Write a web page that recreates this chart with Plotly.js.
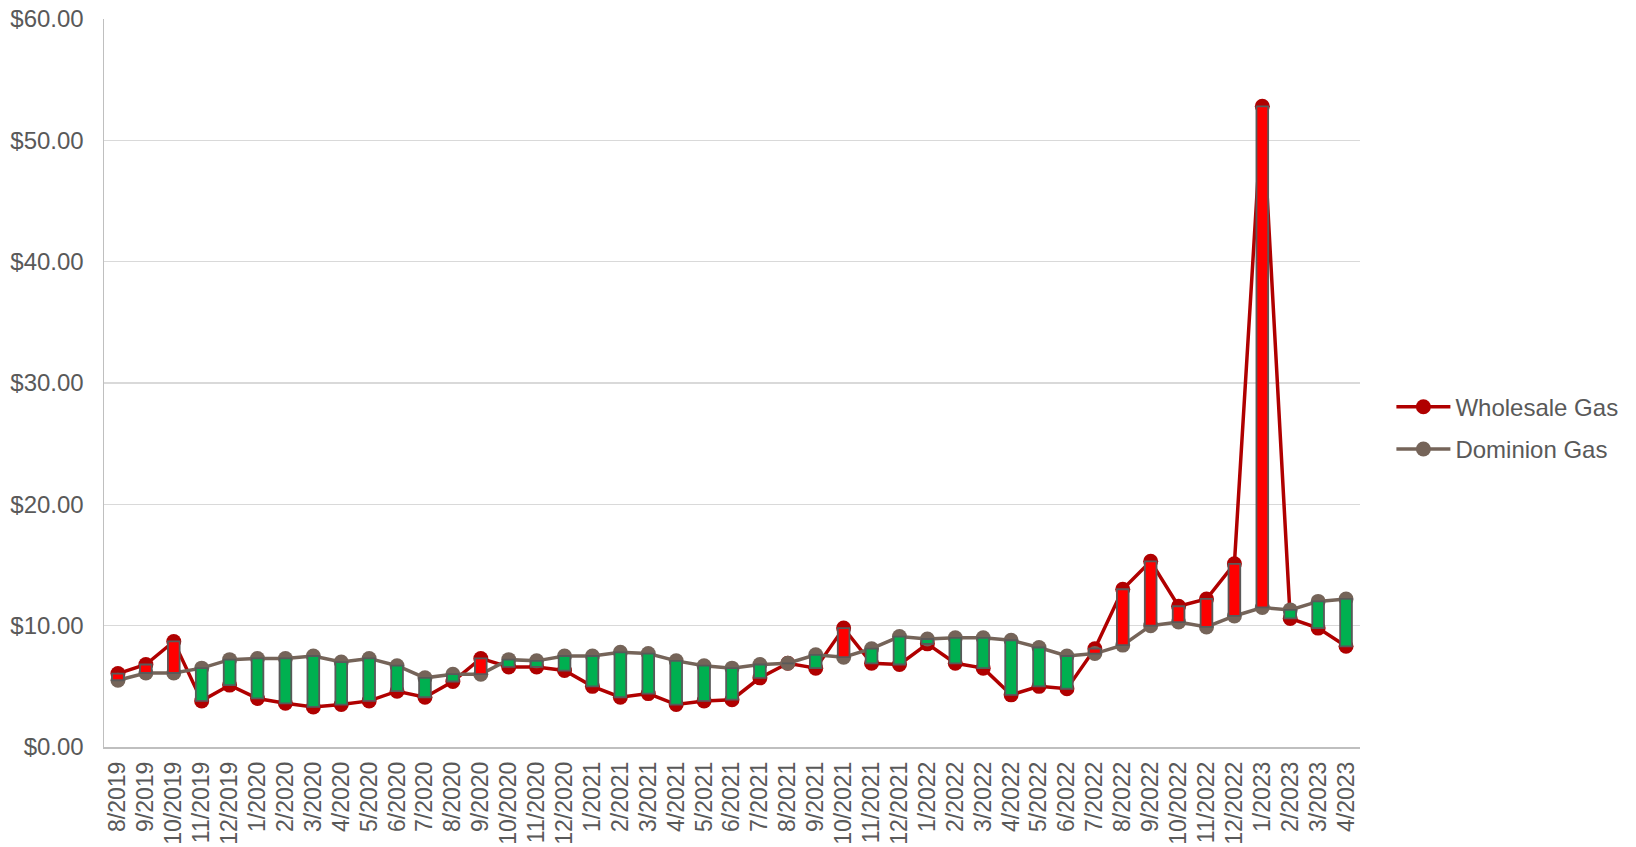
<!DOCTYPE html>
<html>
<head>
<meta charset="utf-8">
<script src="https://cdn.plot.ly/plotly-3.0.1.min.js"></script>
<style>html,body{margin:0;padding:0;background:#fff;}#chart{width:1636px;height:847px;}</style>
</head>
<body>
<div id="chart"></div>
<script>
const months = ["8/2019","9/2019","10/2019","11/2019","12/2019","1/2020","2/2020","3/2020","4/2020","5/2020","6/2020","7/2020","8/2020","9/2020","10/2020","11/2020","12/2020","1/2021","2/2021","3/2021","4/2021","5/2021","6/2021","7/2021","8/2021","9/2021","10/2021","11/2021","12/2021","1/2022","2/2022","3/2022","4/2022","5/2022","6/2022","7/2022","8/2022","9/2022","10/2022","11/2022","12/2022","1/2023","2/2023","3/2023","4/2023"];
const wholesale = [6.05,6.8,8.7,3.8,5.1,4.0,3.6,3.3,3.5,3.8,4.6,4.1,5.4,7.3,6.6,6.6,6.3,5.0,4.1,4.4,3.5,3.8,3.9,5.7,6.9,6.5,9.8,6.9,6.8,8.5,6.9,6.5,4.3,5.0,4.8,8.1,13.0,15.3,11.6,12.2,15.1,52.8,10.6,9.8,8.3];
const dominion = [5.5,6.1,6.1,6.5,7.2,7.3,7.3,7.5,7.0,7.3,6.7,5.7,6.0,6.0,7.2,7.1,7.5,7.5,7.8,7.7,7.1,6.7,6.5,6.8,6.9,7.6,7.4,8.1,9.1,8.9,9.0,9.0,8.8,8.2,7.5,7.7,8.4,10.0,10.3,9.9,10.8,11.5,11.3,12.0,12.2];

const barBase = wholesale.map((w,i)=>Math.min(w,dominion[i]));
const barLen = wholesale.map((w,i)=>Math.abs(w-dominion[i]));
const barColor = wholesale.map((w,i)=> w>dominion[i] ? '#FF0000' : '#00B050');

const fontFam = 'Liberation Sans, Arial, sans-serif';
const txtCol = '#595959';

const traces = [
  {type:'scatter', mode:'lines+markers', name:'Wholesale Gas', x:months, y:wholesale,
   line:{color:'#B00000', width:3.5}, marker:{color:'#B00000', size:15}, legendgroup:'a', xaxis:'x', yaxis:'y'},
  {type:'scatter', mode:'lines+markers', name:'Dominion Gas', x:months, y:dominion,
   line:{color:'#756459', width:3.5}, marker:{color:'#756459', size:15}, legendgroup:'b', xaxis:'x', yaxis:'y'},
  {type:'bar', x:months, y:barLen, base:barBase, width:0.42, showlegend:false,
   marker:{color:barColor, line:{color:'#595959', width:1.8}}, xaxis:'x', yaxis:'y2', hoverinfo:'skip'}
];

const layout = {
  width:1636, height:847,
  margin:{l:104, r:276, t:19, b:100},
  paper_bgcolor:'#fff', plot_bgcolor:'#fff',
  font:{family:fontFam, size:24, color:txtCol},
  showlegend:true,
  legend:{x:1.025, y:0.438, xanchor:'left', yanchor:'middle', font:{size:24, color:txtCol},
          traceorder:'grouped', tracegroupgap:8, itemwidth:54, bgcolor:'rgba(0,0,0,0)'},
  xaxis:{type:'category', tickmode:'array', tickvals:months, ticktext:months, tickangle:-90,
         showgrid:false, showline:true, linecolor:'#BFBFBF', linewidth:1.5, ticks:'',
         tickfont:{size:23, color:txtCol}, automargin:false, ticklabelstandoff:4, range:[-0.5,44.5]},
  yaxis:{range:[0,60], dtick:10, tickformat:'$.2f', showgrid:true, gridcolor:'#D9D9D9', gridwidth:1.5,
         showline:true, linecolor:'#BFBFBF', linewidth:1.5, zeroline:false, ticks:'',
         tickfont:{size:24, color:txtCol}, automargin:false, ticklabelstandoff:14},
  yaxis2:{range:[0,60], overlaying:'y', visible:false, showgrid:false, zeroline:false},
  bargap:0
};

Plotly.newPlot('chart', traces, layout, {displayModeBar:false, staticPlot:true});
</script>
</body>
</html>
